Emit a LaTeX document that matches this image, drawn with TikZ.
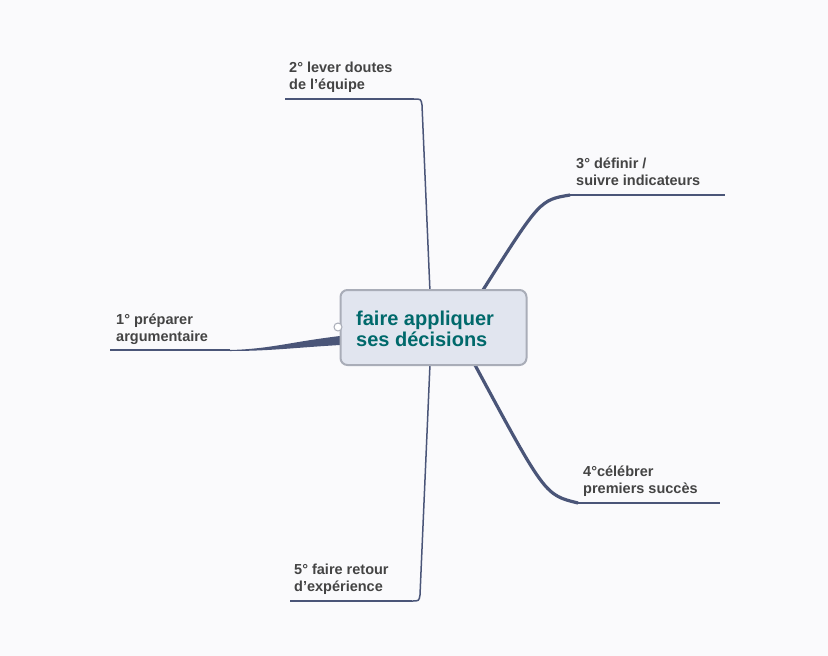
\documentclass[tikz,border=0pt]{standalone}
\usepackage{fontspec}
\setmainfont{Liberation Sans}
\definecolor{bg}{HTML}{FAFAFC}
\definecolor{ln}{HTML}{4A5578}
\definecolor{tx}{HTML}{444444}
\definecolor{boxf}{HTML}{E1E5EF}
\definecolor{boxd}{HTML}{A9ADB8}
\definecolor{teal}{HTML}{00696B}
\begin{document}
\begin{tikzpicture}[x=1pt,y=-1pt,
  lbl/.style={anchor=north west,inner sep=0pt,align=left,text=tx,font=\fontsize{14.5}{16.5}\selectfont\bfseries},
  br/.style={draw=ln,line width=1.2pt},
  thick br/.style={draw=ln,line width=3.2pt}]
\fill[bg] (0,0) rectangle (828,656);
\useasboundingbox (0,0) rectangle (828,656);
% branches
\coordinate (e1) at (230,350); \coordinate (f1) at (110,350);
\coordinate (e2) at (420,99); \coordinate (f2) at (285,99);
\coordinate (e3) at (570,195); \coordinate (f3) at (725,195);
\coordinate (e4) at (578,503); \coordinate (f4) at (720,503);
\coordinate (e5) at (418,601); \coordinate (f5) at (290,601);
\fill[ln] (340,336) .. controls (290,342) and (270,349) .. (e1) -- (230,351) .. controls (270,351) and (290,348) .. (340,345) -- cycle;
\draw[br] (e1) -- (f1);
\draw[draw=ln,line width=1.5pt] (430,292) -- (422,105) .. controls (421,99) .. (414,99);
\draw[br] (414,99) -- (f2);
\draw[thick br] (483,290) .. controls (540,200) .. (e3);
\draw[br] (e3) -- (f3);
\draw[thick br] (475,365) .. controls (545,495) .. (e4);
\draw[br] (e4) -- (f4);
\draw[draw=ln,line width=1.5pt] (430,364) -- (420,595) .. controls (419,601) .. (412,601);
\draw[br] (412,601) -- (f5);
% center
\node[draw=boxd,line width=2pt,fill=boxf,rounded corners=7pt,minimum width=186pt,minimum height=75pt,inner sep=0pt] (c) at (433.5,327.5) {};
\node[anchor=west,align=left,text=teal,inner sep=0pt,font=\fontsize{20}{21}\selectfont\bfseries] (ct) at (356,329) {faire appliquer\\ses décisions};
\node[circle,draw=boxd,fill=white,line width=1pt,minimum size=8pt,inner sep=0pt] (dot) at (338,327) {};
% labels
\node[lbl] (t1) at (116,314) {1° préparer\\argumentaire};
\node[lbl] (t2) at (289,62) {2° lever doutes\\de l'équipe};
\node[lbl] (t3) at (576,158) {3° définir /\\suivre indicateurs};
\node[lbl] (t4) at (583,466) {4°célébrer\\premiers succès};
\node[lbl] (t5) at (294,564) {5° faire retour\\d'expérience};
\end{tikzpicture}
\end{document}
